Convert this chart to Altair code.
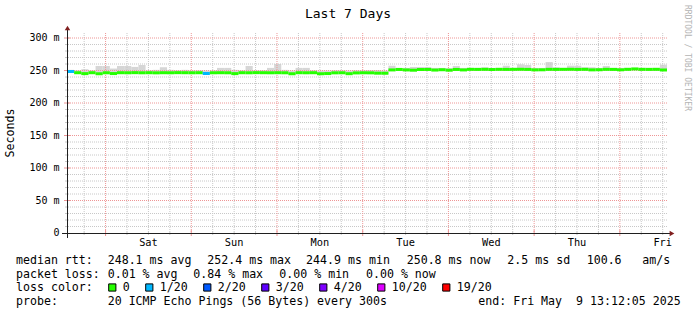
import altair as alt
import pandas as pd

FONT = "DejaVu Sans Mono"

# ---------------- data ----------------
TITLE = "Last 7 Days"
Y_TITLE = "Seconds"
WATERMARK = "RRDTOOL / TOBI OETIKER"
SPAN_H = 168                      # 7 days
FIRST_MIDNIGHT_H = 10.7986        # Fri 13:12:05 -> Sat 00:00
BIN_H = 2                         # hours per consolidated step
days = ["Sat", "Sun", "Mon", "Tue", "Wed", "Thu", "Fri"]
y_ticks = [0, 50, 100, 150, 200, 250, 300]
y_minor = [v for v in range(10, 301, 10) if v % 50]

# median rtt in ms per 2-hour step
median = [
    248.5, 246.6, 245.2, 246.6, 245.0, 246.5, 245.3, 246.6, 246.5, 246.7,
    246.5, 246.6, 246.4, 246.6, 246.5, 246.7, 246.6, 246.5, 246.6, 245.4,
    246.5, 246.6, 246.5, 245.2, 246.6, 246.5, 246.7, 246.6, 246.5, 246.6,
    246.5, 245.0, 246.6, 246.5, 246.6, 245.0, 245.3, 246.4, 246.5, 245.1,
    246.3, 246.5, 246.4, 245.9, 245.8, 250.9, 251.6, 250.9, 250.5, 251.5,
    251.6, 250.7, 251.2, 250.5, 251.6, 250.9, 251.8, 251.7, 251.8, 251.5,
    251.8, 251.7, 251.8, 251.9, 251.7, 251.0, 251.1, 251.8, 251.7, 251.8,
    251.9, 251.7, 251.8, 251.0, 251.2, 251.8, 251.7, 251.1, 251.8, 252.4,
    251.8, 251.7, 251.8, 250.8,
]
# upper edge of the smoke (slowest pings) in ms
smoke_top = [
    251.0, 250.5, 252.0, 250.5, 257.0, 257.0, 253.0, 257.0, 257.0, 255.5,
    258.5, 250.5, 251.0, 255.0, 251.0, 250.5, 251.0, 250.5, 250.5, 250.0,
    250.5, 254.0, 254.0, 251.0, 250.5, 257.0, 250.5, 250.5, 254.0, 260.0,
    251.0, 250.0, 254.0, 254.0, 250.5, 250.0, 250.0, 250.5, 250.5, 250.0,
    250.5, 250.5, 250.7, 250.7, 250.0, 257.4, 254.0, 254.0, 255.4, 255.4,
    255.4, 254.0, 254.0, 253.5, 257.0, 254.0, 254.0, 254.0, 255.0, 254.0,
    254.0, 257.4, 254.0, 259.5, 258.5, 254.0, 254.0, 263.0, 255.0, 254.0,
    257.5, 257.4, 255.0, 255.0, 254.0, 257.0, 254.0, 254.0, 254.0, 254.0,
    254.0, 254.0, 254.0, 259.0,
]
# lost pings out of 20 per step
loss = [1] + [0] * 18 + [1] + [0] * 64

loss_levels = [0, 1, 2, 3, 4, 10, 19]
loss_labels = ["0", "1/20", "2/20", "3/20", "4/20", "10/20", "19/20"]
loss_colors = ["#26ff00", "#00b8ff", "#0059ff", "#5e00ff", "#7e00ff", "#dd00ff", "#ff0000"]

rtt_stats = ["median rtt:", "248.1 ms avg", "252.4 ms max", "244.9 ms min",
             "250.8 ms now", "2.5 ms sd", "100.6", "am/s"]
loss_stats = ["packet loss:", "0.01 % avg", "0.84 % max", "0.00 % min", "0.00 % now"]
probe_row = ["probe:", "20 ICMP Echo Pings (56 Bytes) every 300s",
             "end: Fri May  9 13:12:05 2025"]
loss_row_title = "loss color:"

# ---------------- frames ----------------
n = len(median)
bins = pd.DataFrame({
    "t0": [i * BIN_H for i in range(n)],
    "t1": [(i + 1) * BIN_H for i in range(n)],
    "med": median,
    "top": smoke_top,
    "loss": loss,
})
bins["lo"] = bins["med"] - 1.5
cmap = dict(zip(loss_levels, loss_colors))
bins["col"] = bins["loss"].map(cmap)

midnights = [FIRST_MIDNIGHT_H + 24 * k for k in range(7)]
six_h = []
h = FIRST_MIDNIGHT_H - 6
while h < SPAN_H:
    if h > 0 and all(abs(h - m) > 0.01 for m in midnights):
        six_h.append(h)
    h += 6
noons = [m + 12 for m in midnights]

xs = alt.Scale(domain=[0, SPAN_H], nice=False, zero=False)
ys = alt.Scale(domain=[0, 307.7], nice=False, zero=False)

GRID = "#c8c8c8"
MGRID = "#ee9696"
AXIS = "#1f1f1f"
ARROW = "#801f1f"

dummy = pd.DataFrame({"a": [1]})


def X(field):
    return alt.X(field, type="quantitative", scale=xs, axis=None)


def Y(field):
    return alt.Y(field, type="quantitative", scale=ys, axis=None)


layers = []

# smoke
layers.append(alt.Chart(bins).mark_rect(color="#d6d6d6").encode(
    x=X("t0"), x2="t1", y=Y("lo"), y2="top"))

# grid
layers.append(alt.Chart(pd.DataFrame({"v": y_minor})).mark_rule(
    color=GRID, strokeDash=[1, 1], strokeWidth=1).encode(y=Y("v")))
layers.append(alt.Chart(pd.DataFrame({"h": six_h})).mark_rule(
    color=GRID, strokeDash=[1, 1], strokeWidth=1).encode(x=X("h")))
layers.append(alt.Chart(pd.DataFrame({"v": y_ticks[1:]})).mark_rule(
    color=MGRID, strokeDash=[1, 1], strokeWidth=1).encode(y=Y("v")))
layers.append(alt.Chart(pd.DataFrame({"h": midnights})).mark_rule(
    color=MGRID, strokeDash=[1, 1], strokeWidth=1).encode(x=X("h")))

# small tick marks on the axes
layers.append(alt.Chart(pd.DataFrame({"h": six_h})).mark_rule(color=GRID).encode(
    x=X("h"), y=alt.value(199), y2=alt.value(202)))
layers.append(alt.Chart(pd.DataFrame({"h": midnights})).mark_rule(color=MGRID).encode(
    x=X("h"), y=alt.value(197), y2=alt.value(203)))
layers.append(alt.Chart(pd.DataFrame({"v": y_minor})).mark_rule(color=GRID).encode(
    y=Y("v"), x=alt.value(-2), x2=alt.value(1)))
layers.append(alt.Chart(pd.DataFrame({"v": y_ticks[1:]})).mark_rule(color=MGRID).encode(
    y=Y("v"), x=alt.value(-3), x2=alt.value(3)))

# median line coloured by loss
layers.append(alt.Chart(bins).mark_rule(strokeWidth=3).encode(
    x=X("t0"), x2="t1", y=Y("med"), color=alt.Color("col:N", scale=None)))

# axis lines + arrows
layers.append(alt.Chart(dummy).mark_rule(color=AXIS, strokeWidth=1).encode(
    x=alt.value(-5), x2=alt.value(604), y=alt.value(200.5)))
layers.append(alt.Chart(dummy).mark_rule(color=AXIS, strokeWidth=1).encode(
    x=alt.value(0.5), y=alt.value(205), y2=alt.value(-4)))
layers.append(alt.Chart(dummy).mark_point(shape="triangle-right", filled=True, size=30,
                                          color=ARROW, opacity=1).encode(
    x=alt.value(605), y=alt.value(200.5)))
layers.append(alt.Chart(dummy).mark_point(shape="triangle-up", filled=True, size=30,
                                          color=ARROW, opacity=1).encode(
    x=alt.value(0.5), y=alt.value(-5)))

# axis labels
ylab = pd.DataFrame({"v": y_ticks, "lab": [f"{v} m" if v else "0" for v in y_ticks]})
ylab["lab"] = ylab["lab"].str.replace(" ", "\u00a0")
layers.append(alt.Chart(ylab).mark_text(font=FONT, fontSize=10, align="right",
                                        baseline="middle", color="#000").encode(
    y=Y("v"), x=alt.value(-7.5), text="lab:N"))
xlab = pd.DataFrame({"h": noons, "lab": days})
layers.append(alt.Chart(xlab).mark_text(font=FONT, fontSize=10.3, align="center",
                                        baseline="middle", color="#000").encode(
    x=X("h"), y=alt.value(209.5), text="lab:N"))


def txt(s, x, y, size=11.6, align="left", baseline="alphabetic", angle=0, color="#000"):
    return alt.Chart(dummy).mark_text(
        text=s.replace(" ", "\u00a0"), font=FONT, fontSize=size, align=align,
        baseline=baseline, angle=angle, color=color).encode(
        x=alt.value(x), y=alt.value(y))


layers.append(txt(TITLE, 281, -19, size=13, align="center", baseline="middle"))
layers.append(txt(Y_TITLE, -56, 100, size=11.6, align="center", baseline="middle", angle=270))
layers.append(txt(WATERMARK, 619.5, -28, size=8, align="left", baseline="middle",
                  angle=90, color="#b4b4b4"))

LEFT = -51
COL1 = 40.7
row_y = [231, 244.5, 258, 271.5]

rtt_x = [LEFT, COL1, 140.3, 239.1, 339.7, 440.3, 519.7, 575.3]
for s, x in zip(rtt_stats, rtt_x):
    layers.append(txt(s, x, row_y[0]))
loss_x = [LEFT, COL1, 126.3, 212.3, 299]
for s, x in zip(loss_stats, loss_x):
    layers.append(txt(s, x, row_y[1]))

layers.append(txt(loss_row_title, LEFT, row_y[2]))
bx = 41.3
for lab, col in zip(loss_labels, loss_colors):
    layers.append(alt.Chart(dummy).mark_square(size=52, color=col, opacity=1,
                                               stroke="#000", strokeWidth=1).encode(
        x=alt.value(bx + 4), y=alt.value(row_y[2] - 3.5)))
    layers.append(txt(lab, bx + 14.5, row_y[2]))
    bx = bx + 14.5 + 7.0 * len(lab) + 15.5

probe_x = [LEFT, COL1, 411.3]
for s, x in zip(probe_row, probe_x):
    layers.append(txt(s, x, row_y[3]))

chart = alt.layer(*layers).properties(
    width=600, height=200,
    padding={"left": 67, "top": 33, "right": 30, "bottom": 82},
    autosize=alt.AutoSizeParams(type="none"),
    background="white",
).configure_view(stroke=None)

chart.save("out.html", embed_options={"renderer": "svg", "actions": False})
